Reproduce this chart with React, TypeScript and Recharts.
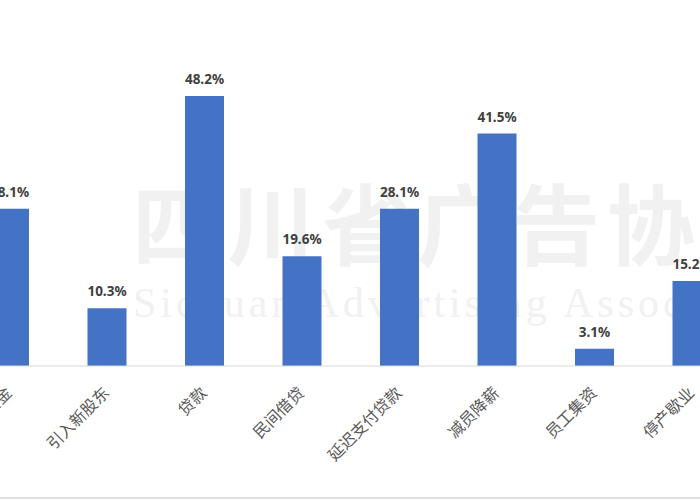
import { BarChart, Bar, XAxis, YAxis, LabelList } from 'recharts';

const categories = ['自有资金', '引入新股东', '贷款', '民间借贷', '延迟支付贷款', '减员降薪', '员工集资', '停产歇业'];
const shares = [28.1, 10.3, 48.2, 19.6, 28.1, 41.5, 3.1, 15.2];

const data = categories.map((name, i) => ({ name, value: shares[i] }));

const FONT = '"Noto Sans", "Noto Sans CJK SC", sans-serif';

// category names turned 45 degrees, ending just under the tick
const AngledTick = ({ x, y, payload }: any) => (
  <text
    x={x + 3}
    y={y + 20}
    transform={`rotate(-45, ${x + 3}, ${y + 20})`}
    textAnchor="end"
    fontSize={16}
    fill="#595959"
    fontFamily='"Noto Sans CJK SC", sans-serif'
  >
    {payload.value}
  </text>
);

export default function App() {
  return (
    <div
      style={{
        position: 'fixed',
        left: 0,
        top: 0,
        width: 700,
        height: 500,
        overflow: 'hidden',
        background: '#fff',
      }}
    >
      {/* watermark */}
      <div
        style={{
          position: 'absolute',
          left: 132,
          top: 176,
          fontSize: 88,
          letterSpacing: 7,
          color: '#f1f1f1',
          fontFamily: '"Noto Sans CJK SC", serif',
          fontWeight: 700,
          whiteSpace: 'nowrap',
          lineHeight: 1,
        }}
      >
        四川省广告协会
      </div>
      <div
        style={{
          position: 'absolute',
          left: 133,
          top: 282,
          fontSize: 42,
          letterSpacing: 4,
          color: '#f1f1f1',
          fontFamily: '"Liberation Serif", serif',
          whiteSpace: 'nowrap',
          lineHeight: 1,
        }}
      >
        Sichuan Advertising Association
      </div>
      <div style={{ position: 'absolute', left: -39, top: 0 }}>
        <BarChart
          width={780}
          height={500}
          data={data}
          margin={{ top: 30, right: 0, bottom: 0, left: 0 }}
          barSize={39}
        >
          <XAxis
            dataKey="name"
            height={134}
            interval={0}
            tickLine={false}
            axisLine={{ stroke: '#d9d9d9' }}
            tick={<AngledTick />}
          />
          <YAxis hide domain={[0, 60]} />
          <Bar dataKey="value" fill="#4472C4" isAnimationActive={false}>
            <LabelList
              dataKey="value"
              position="top"
              offset={12}
              formatter={(v: any) => `${v}%`}
              style={{ fontSize: 13.5, fontWeight: 700, fill: '#404040', fontFamily: FONT }}
            />
          </Bar>
        </BarChart>
      </div>
      <div
        style={{
          position: 'absolute',
          left: 0,
          top: 497,
          width: 700,
          height: 2,
          background: '#e0e0e0',
        }}
      />
    </div>
  );
}
